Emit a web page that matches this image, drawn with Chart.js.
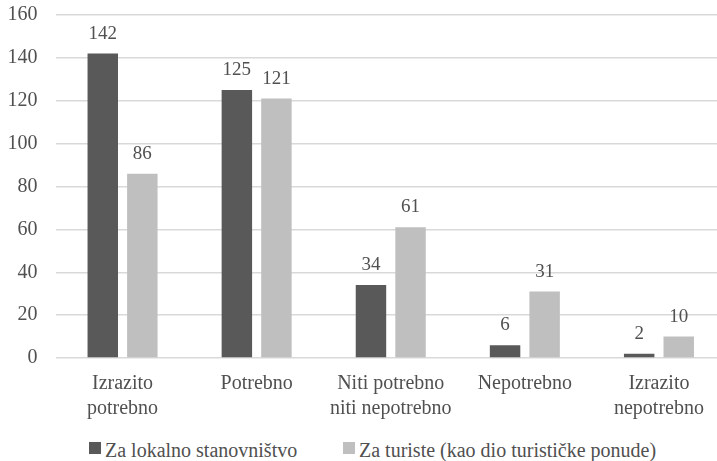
<!DOCTYPE html>
<html>
<head>
<meta charset="utf-8">
<script src="https://cdn.jsdelivr.net/npm/chart.js@4/dist/chart.umd.min.js"></script>
<style>
  html, body { margin: 0; padding: 0; background: #fff; overflow: hidden; width: 717px; height: 461px; }
  #wrap { position: absolute; left: 0; top: 0; width: 728px; height: 432px; }
  #legend { position: absolute; left: 0; top: 437px; width: 717px; height: 24px;
            font-family: "Liberation Serif", "Times New Roman", serif; font-size: 20px; color: #505050; }
  .item { position: absolute; top: 0; line-height: 27px; white-space: nowrap; }
  .box { display: inline-block; width: 12px; height: 12px; margin-right: 4px; vertical-align: 3px; }
</style>
</head>
<body>
<div id="wrap"><canvas id="chart"></canvas></div>
<div id="legend"></div>
<script>
const categories = [['Izrazito', 'potrebno'], 'Potrebno', ['Niti potrebno', 'niti nepotrebno'], 'Nepotrebno', ['Izrazito', 'nepotrebno']];
const lokalno = [142, 125, 34, 6, 2];
const turiste = [86, 121, 61, 31, 10];
const seriesNames = ['Za lokalno stanovništvo', 'Za turiste (kao dio turističke ponude)'];
const seriesColors = ['#595959', '#bfbfbf'];
const yTicks = [0, 20, 40, 60, 80, 100, 120, 140, 160];

const serif = '"Liberation Serif", "Times New Roman", serif';
const textColor = '#505050';

const valueLabels = {
    id: 'valueLabels',
    afterDatasetsDraw(chart) {
        let ctx = chart.ctx;
        ctx.save();
        ctx.font = '19px ' + serif;
        ctx.fillStyle = textColor;
        ctx.textAlign = 'center';
        ctx.textBaseline = 'alphabetic';
        chart.data.datasets.forEach((ds, i) => {
            chart.getDatasetMeta(i).data.forEach((bar, j) => {
                ctx.fillText(ds.data[j], bar.x, bar.y - 15);
            });
        });
        ctx.restore();
    }
};

let chart = new Chart(document.getElementById('chart'), {
    type: 'bar',
    data: {
        labels: categories,
        datasets: seriesNames.map((name, i) => ({
            label: name,
            data: i === 0 ? lokalno : turiste,
            backgroundColor: seriesColors[i],
            categoryPercentage: 0.59,
            barPercentage: 0.77
        }))
    },
    options: {
        responsive: true,
        maintainAspectRatio: false,
        animation: false,
        layout: { padding: { top: 15, right: 2, left: 8, bottom: 6 } },
        scales: {
            x: {
                grid: { display: false },
                border: { display: false },
                ticks: {
                    color: textColor,
                    font: { family: serif, size: 20, lineHeight: 1.25 },
                    maxRotation: 0,
                    padding: 5
                }
            },
            y: {
                min: 0,
                max: 160,
                afterBuildTicks: (axis) => { axis.ticks = yTicks.map(v => ({ value: v })); },
                // the tick padding would otherwise be added to the top/bottom margins too
                afterFit: (axis) => {
                    axis.paddingTop = 0;
                    axis.paddingBottom = 0;
                    axis.width = 47.5;
                },
                grid: { color: '#d9d9d9', lineWidth: 1.5, drawTicks: false },
                border: { display: false },
                ticks: {
                    color: textColor,
                    font: { family: serif, size: 20 },
                    padding: 18
                }
            }
        },
        plugins: {
            legend: { display: false },
            tooltip: { enabled: false }
        }
    },
    plugins: [valueLabels]
});

// legend below the chart
let legendDiv = document.getElementById('legend');
let legendLeft = [89, 343];
seriesNames.forEach((name, i) => {
    let item = document.createElement('span');
    item.className = 'item';
    item.style.left = legendLeft[i] + 'px';
    let box = document.createElement('span');
    box.className = 'box';
    box.style.background = seriesColors[i];
    item.appendChild(box);
    item.appendChild(document.createTextNode(name));
    legendDiv.appendChild(item);
});
</script>
</body>
</html>
